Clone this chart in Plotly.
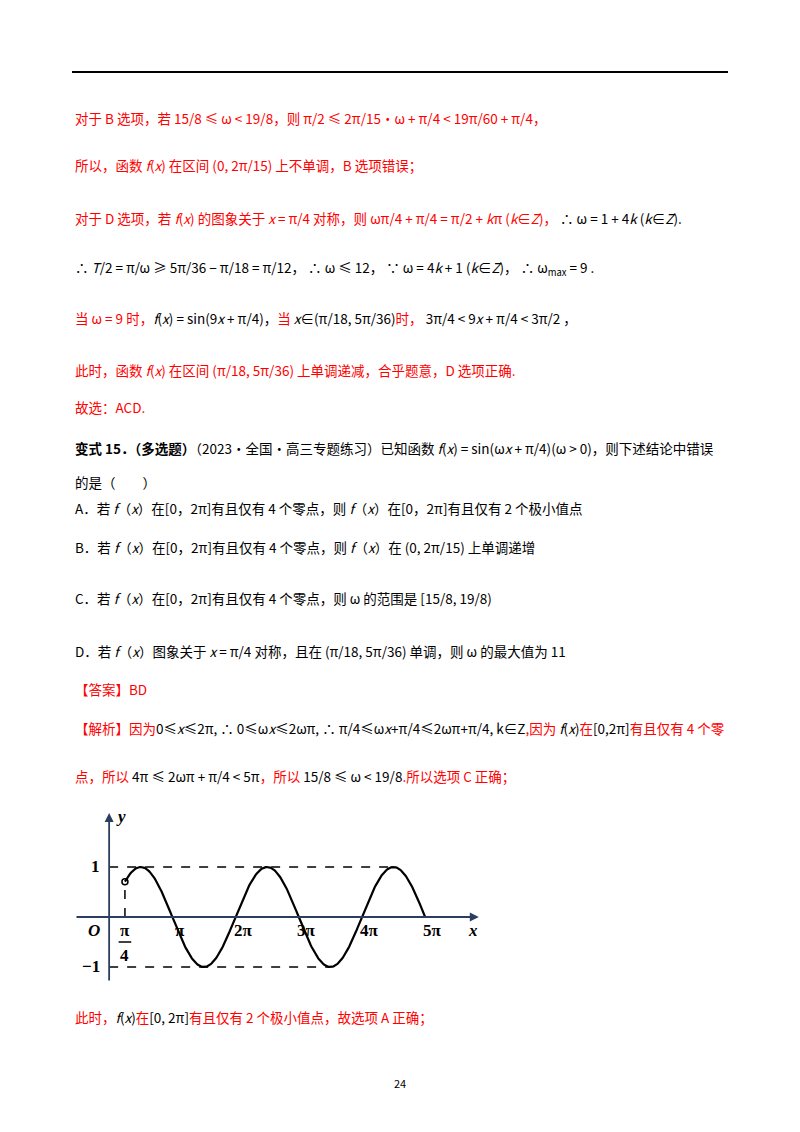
import numpy as np
import plotly.graph_objects as go

# curve data: y = sin(x), x from pi/4 to 5pi (x in units of pi)
x_start = 0.25
x_end = 5.0
tick_vals = [1, 2, 3, 4, 5]
tick_labels = ["π", "2π", "3π", "4π", "5π"]
y_ticks = [1, -1]
y_tick_labels = ["1", "−1"]

W, H = 800, 1132
OFF = 8  # page body offset
R = "#ff0000"
K = "#000000"

def px(x):
    return (x - OFF) / W

def py(y):
    return 1 - (y - OFF) / H

fig = go.Figure()
xs = np.linspace(x_start, x_end, 400)
ys = np.sin(np.pi * xs)
fig.add_trace(go.Scatter(x=xs, y=ys, mode="lines", line=dict(color="black", width=2.2), hoverinfo="skip"))
fig.add_trace(go.Scatter(x=[0, 4.5], y=[1, 1], mode="lines", line=dict(color="black", width=1.5, dash="dash")))
fig.add_trace(go.Scatter(x=[0, 3.5], y=[-1, -1], mode="lines", line=dict(color="black", width=1.5, dash="dash")))
fig.add_trace(go.Scatter(x=[x_start, x_start], y=[0, np.sin(np.pi * x_start)], mode="lines",
                         line=dict(color="black", width=1.5, dash="dash")))
fig.add_trace(go.Scatter(x=[x_start], y=[np.sin(np.pi * x_start)], mode="markers",
                         marker=dict(symbol="circle-open", size=6, color="black", line=dict(width=1.5))))
fig.add_annotation(x=5.85, y=0, ax=-0.54, ay=0, xref="x", yref="y", axref="x", ayref="y",
                   showarrow=True, arrowhead=2, arrowsize=1, arrowwidth=1.8, text="")
fig.add_annotation(x=0, y=2.08, ax=0, ay=-1.3, xref="x", yref="y", axref="x", ayref="y",
                   showarrow=True, arrowhead=2, arrowsize=1, arrowwidth=1.8, text="")

sf = dict(family="Liberation Serif", size=17, color="black")
for v, t in zip(tick_vals, tick_labels):
    fig.add_annotation(x=v + 0.12, y=-0.05, text="<b>%s</b>" % t, showarrow=False, yanchor="top", font=sf)
# pi/4 fraction
fig.add_annotation(x=x_start, y=-0.05, text="<b>π</b>", showarrow=False, yanchor="top", font=sf)
fig.add_shape(type="line", xref="x", yref="y", x0=x_start - 0.1, x1=x_start + 0.1, y0=-0.5, y1=-0.5,
              line=dict(color="black", width=1.5))
fig.add_annotation(x=x_start, y=-0.55, text="<b>4</b>", showarrow=False, yanchor="top", font=sf)
for v, t in zip(y_ticks, y_tick_labels):
    fig.add_annotation(x=-0.12, y=v, text="<b>%s</b>" % t, showarrow=False, xanchor="right", font=sf)
fig.add_annotation(x=-0.12, y=-0.05, text="<b><i>O</i></b>", showarrow=False, xanchor="right", yanchor="top", font=sf)
fig.add_annotation(x=5.75, y=-0.05, text="<b><i>x</i></b>", showarrow=False, yanchor="top", font=sf)
fig.add_annotation(x=0.08, y=2.0, text="<b><i>y</i></b>", showarrow=False, xanchor="left", font=sf)

fig.update_xaxes(range=[-0.54, 5.9], domain=[px(75), px(482)], visible=False)
fig.update_yaxes(range=[-1.3, 2.08], domain=[py(982), py(813)], visible=False)

def r(s):
    return "<span style='color:%s'>%s</span>" % (R, s)

lines = [
    (118, r("对于 B 选项，若 15/8 ≤ ω < 19/8，则 π/2 ≤ 2π/15·ω + π/4 < 19π/60 + π/4，")),
    (165, r("所以，函数 <i>f</i>(<i>x</i>) 在区间 (0, 2π/15) 上不单调，B 选项错误；")),
    (218, r("对于 D 选项，若 <i>f</i>(<i>x</i>) 的图象关于 <i>x</i> = π/4 对称，则 ωπ/4 + π/4 = π/2 + <i>k</i>π (<i>k</i>∈<i>Z</i>)，") + " ∴ ω = 1 + 4<i>k</i> (<i>k</i>∈<i>Z</i>)."),
    (268, "∴ <i>T</i>/2 = π/ω ≥ 5π/36 − π/18 = π/12， ∴ ω ≤ 12， ∵ ω = 4<i>k</i> + 1 (<i>k</i>∈<i>Z</i>)， ∴ ω<sub>max</sub> = 9 ."),
    (318, r("当 ω = 9 时，") + "<i>f</i>(<i>x</i>) = sin(9<i>x</i> + π/4)，" + r("当") + " <i>x</i>∈(π/18, 5π/36)" + r("时，") + " 3π/4 < 9<i>x</i> + π/4 < 3π/2 ，"),
    (370, r("此时，函数 <i>f</i>(<i>x</i>) 在区间 (π/18, 5π/36) 上单调递减，合乎题意，D 选项正确.")),
    (407, r("故选：ACD.")),
    (448, "<b>变式 15．（多选题）</b>（2023·全国·高三专题练习）已知函数 <i>f</i>(<i>x</i>) = sin(ω<i>x</i> + π/4)(ω > 0)，则下述结论中错误"),
    (482, "的是（　　）"),
    (508, "A．若 <i>f</i>（<i>x</i>）在[0，2π]有且仅有 4 个零点，则 <i>f</i>（<i>x</i>）在[0，2π]有且仅有 2 个极小值点"),
    (547, "B．若 <i>f</i>（<i>x</i>）在[0，2π]有且仅有 4 个零点，则 <i>f</i>（<i>x</i>）在 (0, 2π/15) 上单调递增"),
    (598, "C．若 <i>f</i>（<i>x</i>）在[0，2π]有且仅有 4 个零点，则 ω 的范围是 [15/8, 19/8)"),
    (651, "D．若 <i>f</i>（<i>x</i>）图象关于 <i>x</i> = π/4 对称，且在 (π/18, 5π/36) 单调，则 ω 的最大值为 11"),
    (689, r("【答案】BD")),
    (728, r("【解析】因为") + "0≤<i>x</i>≤2π, ∴ 0≤ω<i>x</i>≤2ωπ, ∴ π/4≤ω<i>x</i>+π/4≤2ωπ+π/4, k∈Z" + r(",因为 ") + "<i>f</i>(<i>x</i>)" + r("在") + "[0,2π]" + r("有且仅有 4 个零")),
    (776, r("点，所以 ") + "4π ≤ 2ωπ + π/4 < 5π" + r("，所以 ") + "15/8 ≤ ω < 19/8" + r(".所以选项 C 正确；")),
    (1017, r("此时，") + "<i>f</i>(<i>x</i>)" + r("在") + "[0, 2π]" + r("有且仅有 2 个极小值点，故选项 A 正确；")),
]
for y, txt in lines:
    fig.add_annotation(x=px(73), y=py(y), xref="paper", yref="paper", text=txt, showarrow=False,
                       xanchor="left", yanchor="middle", align="left",
                       font=dict(family="Noto Sans CJK SC", size=13.5, color=K))

fig.add_annotation(x=px(400), y=py(1093), xref="paper", yref="paper", text="24", showarrow=False,
                   font=dict(family="Noto Sans CJK SC", size=11, color=K))
fig.add_shape(type="line", xref="paper", yref="paper", x0=px(72), x1=px(728), y0=py(72), y1=py(72),
              line=dict(color="black", width=2))

fig.update_layout(width=W, height=H, margin=dict(l=0, r=0, t=0, b=0), showlegend=False,
                  plot_bgcolor="white", paper_bgcolor="white")
fig.write_html("out.html")
